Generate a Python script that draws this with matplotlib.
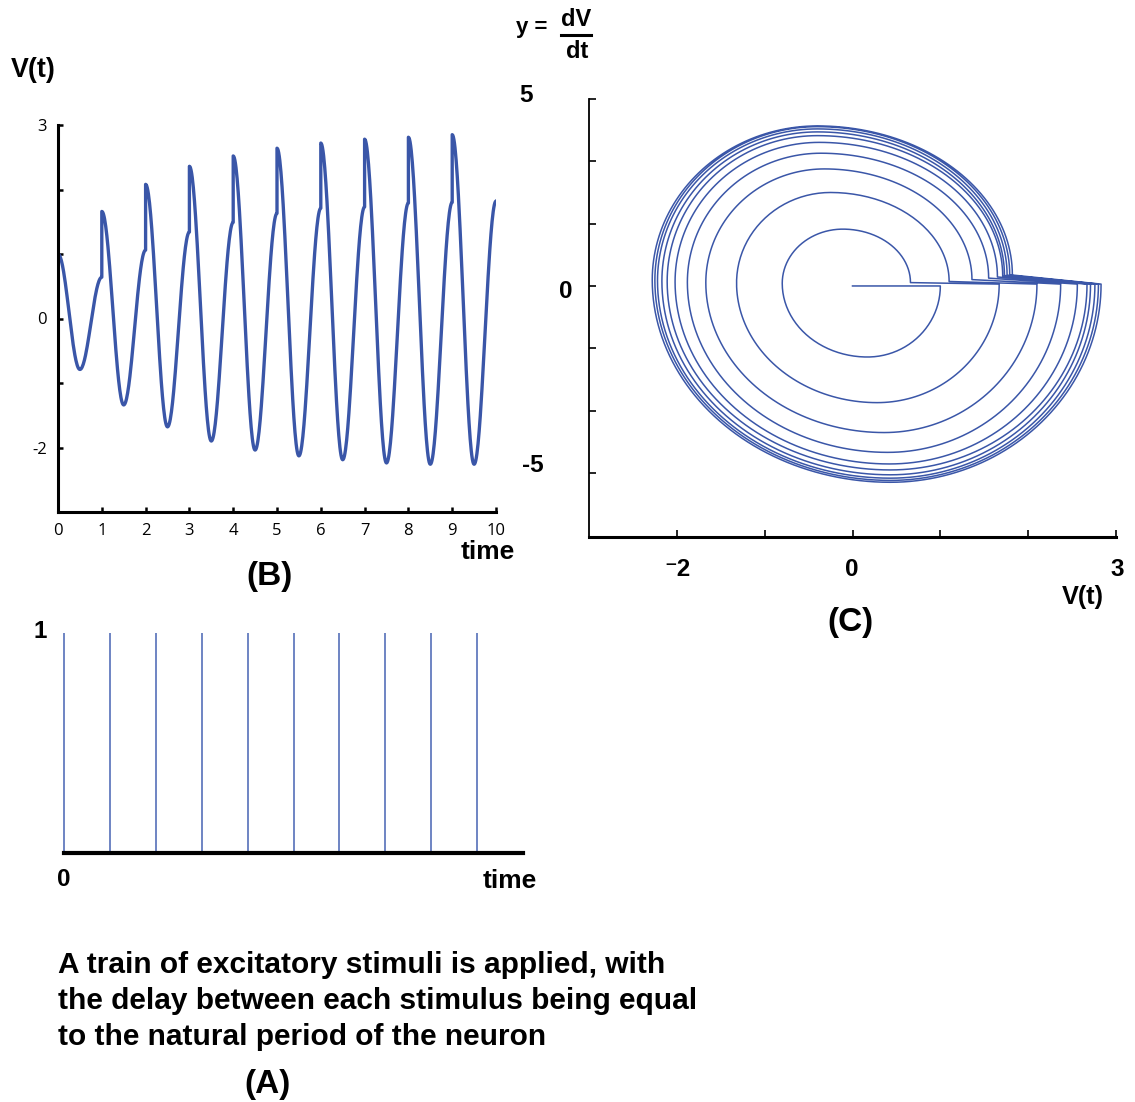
import numpy as np
import matplotlib.pyplot as plt

# stimulus train (A): one pulse per natural period
stim_times = [0, 1, 2, 3, 4, 5, 6, 7, 8, 9]

# V(t) per cycle (B): value right after the kick, trough, value just before next kick
v_peak = [1.00, 1.66, 2.08, 2.36, 2.52, 2.64, 2.72, 2.78, 2.81, 2.85]
v_trough = [-0.79, -1.34, -1.68, -1.90, -2.04, -2.13, -2.19, -2.24, -2.26, -2.26]
v_prekick = [0.64, 1.06, 1.34, 1.49, 1.63, 1.71, 1.73, 1.79, 1.80, 1.82]

# phase portrait loops (C): V at right / left extremes and at loop end,
# dV/dt at top and bottom with the V where they occur
loop_right = [1.00, 1.67, 2.10, 2.37, 2.56, 2.67, 2.71, 2.76, 2.80, 2.83]
loop_start_dv = [0.00, 0.05, 0.05, 0.05, 0.05, 0.05, 0.05, 0.05, 0.05, 0.05]
loop_bottom_v = [0.17, 0.28, 0.36, 0.40, 0.42, 0.43, 0.43, 0.43, 0.43, 0.43]
loop_bottom = [-1.90, -3.12, -3.92, -4.45, -4.76, -4.92, -5.05, -5.14, -5.20, -5.25]
loop_left = [-0.80, -1.32, -1.67, -1.88, -2.02, -2.11, -2.17, -2.22, -2.25, -2.28]
loop_left_dv = [0.07, 0.08, 0.09, 0.10, 0.11, 0.12, 0.13, 0.14, 0.15, 0.16]
loop_top_v = [-0.11, -0.25, -0.32, -0.36, -0.38, -0.40, -0.40, -0.40, -0.40, -0.40]
loop_top = [1.52, 2.50, 3.13, 3.55, 3.84, 4.02, 4.12, 4.20, 4.26, 4.28]
loop_end = [0.66, 1.10, 1.36, 1.55, 1.65, 1.71, 1.73, 1.76, 1.79, 1.82]
loop_end_dv = [0.09, 0.12, 0.17, 0.21, 0.24, 0.26, 0.28, 0.29, 0.30, 0.30]

W, H = 1135, 1102
BLUE = '#3a56a8'
BOLD = ['Liberation Sans', 'DejaVu Sans']

fig = plt.figure(figsize=(W / 100, H / 100), dpi=100)


def ftext(x, y, s, size, ha='center', weight='bold', family=BOLD):
    fig.text(x / W, 1 - y / H, s, fontsize=size, ha=ha, va='center',
             fontweight=weight, family=family)


def fbox(left, top, right, bottom):
    return [left / W, 1 - bottom / H, (right - left) / W, (bottom - top) / H]


# ---- (B) membrane potential vs time ----
axB = fig.add_axes(fbox(58, 125, 496, 512))
t_all, v_all = [], []
for k, t0 in enumerate(stim_times):
    s = np.linspace(0, 1, 40)
    # falling half: peak -> trough
    t_all.append(t0 + 0.5 * s)
    v_all.append(v_trough[k] + (v_peak[k] - v_trough[k]) * (1 + np.cos(np.pi * s)) / 2)
    # rising half: trough -> value before next pulse
    t_all.append(t0 + 0.5 + 0.5 * s)
    v_all.append(v_trough[k] + (v_prekick[k] - v_trough[k]) * (1 - np.cos(np.pi * s)) / 2)
axB.plot(np.concatenate(t_all), np.concatenate(v_all), color=BLUE, lw=2.4,
         solid_joinstyle='round')
axB.set_xlim(0, 10)
axB.set_ylim(-3, 3)
for side in ['top', 'right']:
    axB.spines[side].set_visible(False)
for side in ['left', 'bottom']:
    axB.spines[side].set_linewidth(2.2)
axB.set_xticks(range(0, 11))
axB.set_yticks([-2, -1, 0, 1, 2, 3])
axB.set_yticklabels(['-2', '', '0', '', '', '3'])
axB.tick_params(direction='in', length=3.5, width=1.8, pad=8, labelsize=12)
for lab in axB.get_xticklabels() + axB.get_yticklabels():
    lab.set_family(['Open Sans', 'DejaVu Sans'])

ftext(33, 70, 'V(t)', 19.3)
ftext(488, 552, 'time', 19)
ftext(270, 576, '(B)', 24)

# ---- (C) phase portrait ----
axC = fig.add_axes(fbox(589, 99, 1116, 536.5))


def quarter(ax_pt, ay_pt):
    # quarter arc from a point with vertical tangent to one with horizontal tangent
    th = np.linspace(0, np.pi / 2, 50)
    x = ay_pt[0] + (ax_pt[0] - ay_pt[0]) * np.cos(th)
    y = ax_pt[1] + (ay_pt[1] - ax_pt[1]) * np.sin(th)
    return x, y


xs, ys = [np.array([0.0])], [np.array([0.0])]
for k in range(len(loop_right)):
    right = (loop_right[k], loop_start_dv[k])
    bottom = (loop_bottom_v[k], loop_bottom[k])
    left = (loop_left[k], loop_left_dv[k])
    top = (loop_top_v[k], loop_top[k])
    end = (loop_end[k], loop_end_dv[k])
    x1, y1 = quarter(right, bottom)
    x2, y2 = quarter(left, bottom)
    x3, y3 = quarter(left, top)
    x4, y4 = quarter(end, top)
    xs += [x1, x2[::-1], x3, x4[::-1]]
    ys += [y1, y2[::-1], y3, y4[::-1]]
axC.plot(np.concatenate(xs), np.concatenate(ys), color=BLUE, lw=1.1)
axC.set_xlim(-3, 3)
axC.set_ylim(-6.7, 5)
for side in ['top', 'right']:
    axC.spines[side].set_visible(False)
axC.spines['left'].set_linewidth(1.3)
axC.spines['bottom'].set_linewidth(2.2)
axC.set_xticks([-2, -1, 0, 1, 2, 3])
axC.set_yticks([-5, -10 / 3, -5 / 3, 0, 5 / 3, 10 / 3, 5])
axC.tick_params(direction='in', length=5, width=1.2, labelbottom=False,
                labelleft=False)

ftext(526, 96, '5', 17.5)
ftext(566, 291, '0', 17.5)
ftext(533, 466, '-5', 17.5)
ftext(677, 570, '\u207b2', 17.5)
ftext(852, 570, '0', 17.5)
ftext(1117, 570, '3', 17.5)
ftext(1083, 597, 'V(t)', 18.3)
ftext(850, 622, '(C)', 24)

# y = dV/dt label
ftext(532, 28, 'y =', 16)
ftext(576, 19, 'dV', 17)
ftext(577, 51, 'dt', 17)
fig.add_artist(plt.Line2D([561 / W, 591 / W], [1 - 35 / H, 1 - 35 / H],
                          color='black', lw=2.2, transform=fig.transFigure))

# ---- (A) stimulus train ----
axA = fig.add_axes(fbox(64, 633, 523, 853))
axA.vlines(stim_times, 0, 1, color='#4763b3', lw=1.1, clip_on=False)
axA.set_xlim(0, 10)
axA.set_ylim(0, 1)
for side in ['top', 'right', 'left']:
    axA.spines[side].set_visible(False)
axA.spines['bottom'].set_linewidth(3)
axA.set_xticks([])
axA.set_yticks([])

ftext(40, 632, '1', 17.5)
ftext(64, 880, '0', 17.5)
ftext(510, 881, 'time', 19)

caption = ['A train of excitatory stimuli is applied, with',
           'the delay between each stimulus being equal',
           'to the natural period of the neuron']
for i, line in enumerate(caption):
    ftext(58, 965 + 36 * i, line, 21.5, ha='left')
ftext(268, 1084, '(A)', 24)

fig.savefig('out.png', dpi=100)
